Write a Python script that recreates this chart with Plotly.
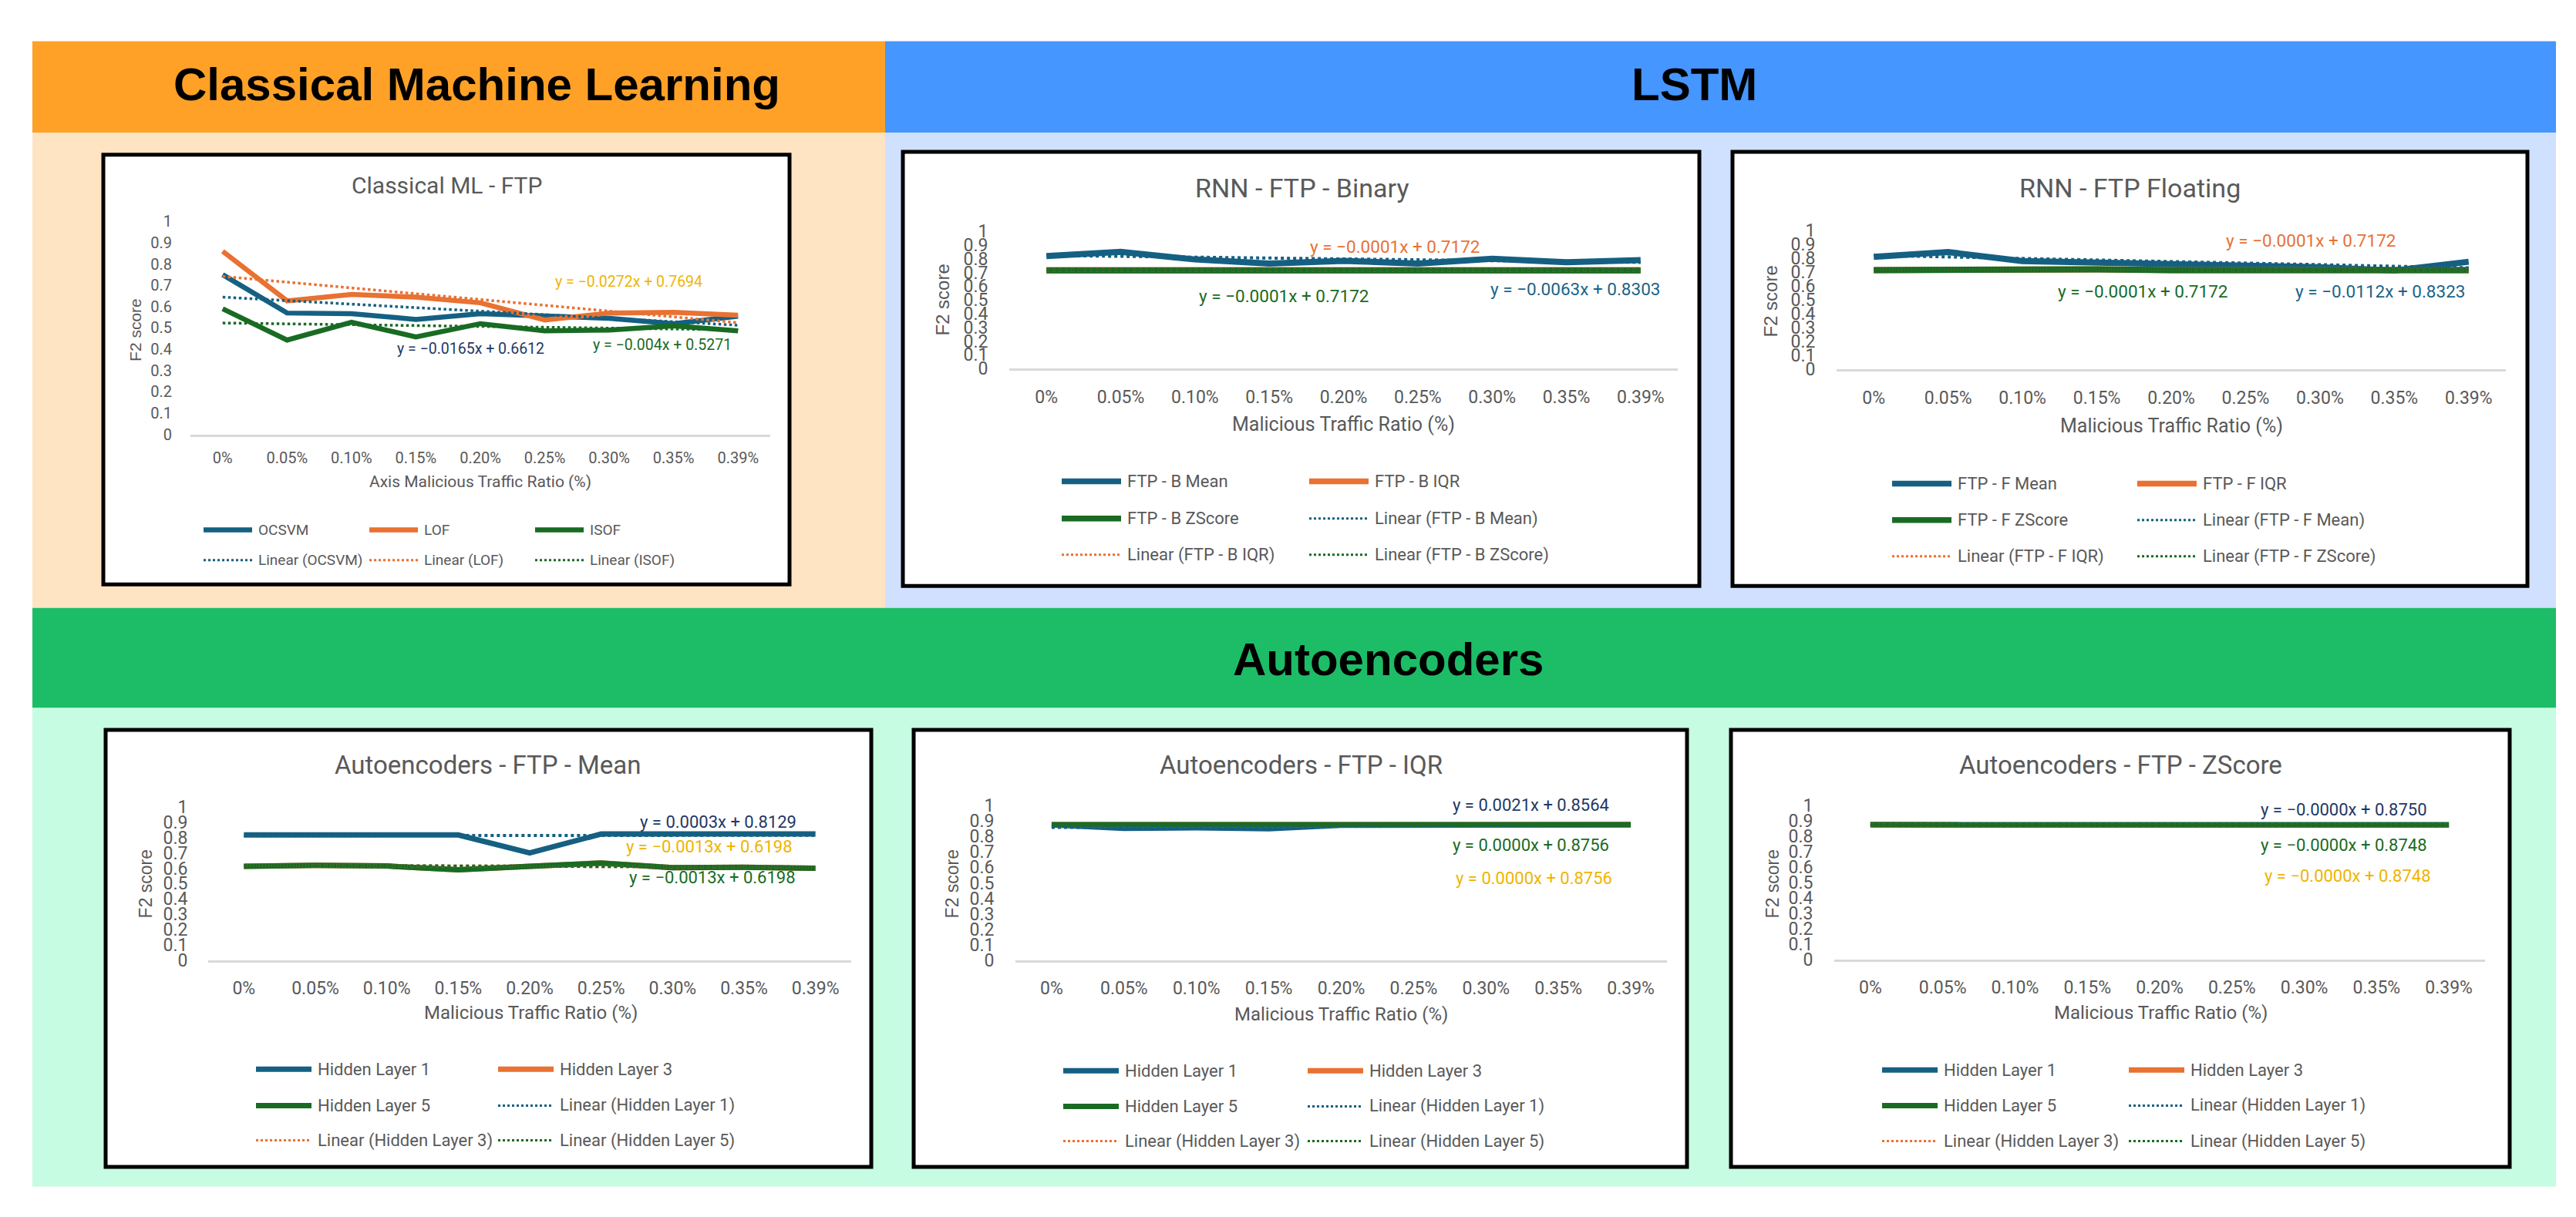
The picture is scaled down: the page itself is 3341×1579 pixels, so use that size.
import plotly.graph_objects as go

W, H = 3341, 1579

# ---------------- data ----------------
x_labels = ["0%", "0.05%", "0.10%", "0.15%", "0.20%", "0.25%", "0.30%", "0.35%", "0.39%"]
y_tick_vals = [0, 0.1, 0.2, 0.3, 0.4, 0.5, 0.6, 0.7, 0.8, 0.9, 1]
y_tick_text = ["0", "0.1", "0.2", "0.3", "0.4", "0.5", "0.6", "0.7", "0.8", "0.9", "1"]

section_titles = ["Classical Machine Learning", "LSTM", "Autoencoders"]

# Classical ML - FTP
ml_names = ["OCSVM", "LOF", "ISOF"]
ml_ocsvm = [0.750, 0.570, 0.567, 0.540, 0.567, 0.555, 0.545, 0.520, 0.555]
ml_lof = [0.860, 0.627, 0.657, 0.645, 0.618, 0.537, 0.570, 0.573, 0.560]
ml_isof = [0.590, 0.443, 0.527, 0.458, 0.520, 0.486, 0.490, 0.510, 0.486]
ml_slopes = [-0.0165, -0.0272, -0.004]
ml_intercepts = [0.6612, 0.7694, 0.5271]
ml_equations = ["y = −0.0165x + 0.6612", "y = −0.0272x + 0.7694", "y = −0.004x + 0.5271"]

# RNN - FTP - Binary
rnnb_names = ["FTP - B Mean", "FTP - B IQR", "FTP - B ZScore"]
rnnb_mean = [0.820, 0.850, 0.795, 0.765, 0.785, 0.765, 0.800, 0.775, 0.790]
rnnb_iqr = [0.715, 0.716, 0.722, 0.718, 0.716, 0.716, 0.716, 0.716, 0.716]
rnnb_zscore = [0.715, 0.716, 0.722, 0.718, 0.716, 0.716, 0.716, 0.716, 0.716]
rnnb_slopes = [-0.0063, -0.0001, -0.0001]
rnnb_intercepts = [0.8303, 0.7172, 0.7172]
rnnb_equations = ["y = −0.0063x + 0.8303", "y = −0.0001x + 0.7172", "y = −0.0001x + 0.7172"]

# RNN - FTP Floating
rnnf_names = ["FTP - F Mean", "FTP - F IQR", "FTP - F ZScore"]
rnnf_mean = [0.810, 0.845, 0.780, 0.770, 0.765, 0.745, 0.735, 0.712, 0.775]
rnnf_iqr = [0.715, 0.716, 0.725, 0.720, 0.715, 0.716, 0.715, 0.715, 0.715]
rnnf_zscore = [0.715, 0.716, 0.725, 0.720, 0.715, 0.716, 0.715, 0.715, 0.715]
rnnf_slopes = [-0.0112, -0.0001, -0.0001]
rnnf_intercepts = [0.8323, 0.7172, 0.7172]
rnnf_equations = ["y = −0.0112x + 0.8323", "y = −0.0001x + 0.7172", "y = −0.0001x + 0.7172"]

# Autoencoders
ae_names = ["Hidden Layer 1", "Hidden Layer 3", "Hidden Layer 5"]

aem_hl1 = [0.818, 0.818, 0.822, 0.818, 0.700, 0.824, 0.824, 0.824, 0.824]
aem_hl3 = [0.613, 0.619, 0.615, 0.590, 0.613, 0.634, 0.604, 0.607, 0.600]
aem_hl5 = [0.613, 0.619, 0.615, 0.590, 0.613, 0.634, 0.604, 0.607, 0.600]
aem_slopes = [0.0003, -0.0013, -0.0013]
aem_intercepts = [0.8129, 0.6198, 0.6198]
aem_equations = ["y = 0.0003x + 0.8129", "y = −0.0013x + 0.6198", "y = −0.0013x + 0.6198"]

aei_hl1 = [0.875, 0.852, 0.856, 0.850, 0.872, 0.875, 0.876, 0.876, 0.876]
aei_hl3 = [0.876, 0.875, 0.876, 0.875, 0.876, 0.876, 0.875, 0.876, 0.876]
aei_hl5 = [0.876, 0.875, 0.876, 0.875, 0.876, 0.876, 0.875, 0.876, 0.876]
aei_slopes = [0.0021, 0.0, 0.0]
aei_intercepts = [0.8564, 0.8756, 0.8756]
aei_equations = ["y = 0.0021x + 0.8564", "y = 0.0000x + 0.8756", "y = 0.0000x + 0.8756"]

aez_hl1 = [0.875, 0.875, 0.875, 0.875, 0.876, 0.878, 0.873, 0.875, 0.876]
aez_hl3 = [0.875, 0.875, 0.875, 0.875, 0.875, 0.872, 0.876, 0.875, 0.874]
aez_hl5 = [0.875, 0.875, 0.875, 0.875, 0.875, 0.872, 0.876, 0.875, 0.874]
aez_slopes = [0.0, 0.0, 0.0]
aez_intercepts = [0.8750, 0.8748, 0.8748]
aez_equations = ["y = −0.0000x + 0.8750", "y = −0.0000x + 0.8748", "y = −0.0000x + 0.8748"]

# ---------------- styles ----------------
SERIES_COLORS = ["#156082", "#E97132", "#196B24"]
EQ_COLORS_A = ["#1F3864", "#EFB400", "#196B24"]
EQ_COLORS_B = ["#1A6488", "#E97132", "#196B24"]
TXT = "#595959"
FONT = "Roboto, 'Noto Sans', sans-serif"
ARIAL = "'Liberation Sans', Arial, sans-serif"


def px_x(p):
    return p / W


def px_y(p):
    return 1 - p / H


charts = [
    dict(title="Classical ML - FTP", names=ml_names, series=[ml_ocsvm, ml_lof, ml_isof],
         slopes=ml_slopes, icepts=ml_intercepts, eqs=ml_equations, eqc=EQ_COLORS_A,
         xtitle="Axis Malicious Traffic Ratio (%)",
         box=(126, 183, 1016, 750), px=(239, 991), py=(552, 271),
         title_pos=(571, 223), title_size=30, tick_size=20, ylen=19, xlen=10,
         xt_pos=(615, 614), xt_size=21, f2_pos=(168, 414), f2_size=21,
         lw=6.5, tw=3.5, ncols=3, leg_rows=[678, 718], leg_cols=[256, 471, 686], leg_len=63,
         leg_size=19, leg_lw=6.5,
         eq_pos=[(602, 439), (807, 350), (851, 434)], eq_size=19.5),
    dict(title="RNN - FTP - Binary", names=rnnb_names, series=[rnnb_mean, rnnb_iqr, rnnb_zscore],
         slopes=rnnb_slopes, icepts=rnnb_intercepts, eqs=rnnb_equations, eqc=EQ_COLORS_B,
         xtitle="Malicious Traffic Ratio (%)",
         box=(1163, 179, 2196, 752), px=(1301, 2168), py=(465, 284),
         title_pos=(1680, 227), title_size=34, tick_size=23, ylen=22, xlen=14,
         xt_pos=(1734, 539), xt_size=25, f2_pos=(1215, 375), f2_size=24,
         lw=8, tw=4, ncols=2, leg_rows=[614, 663, 711], leg_cols=[1369, 1690], leg_len=77,
         leg_size=22, leg_lw=7.5,
         eq_pos=[(2035, 360), (1801, 304), (1657, 369)], eq_size=22.5),
    dict(title="RNN - FTP Floating", names=rnnf_names, series=[rnnf_mean, rnnf_iqr, rnnf_zscore],
         slopes=rnnf_slopes, icepts=rnnf_intercepts, eqs=rnnf_equations, eqc=EQ_COLORS_B,
         xtitle="Malicious Traffic Ratio (%)",
         box=(2239, 179, 3270, 752), px=(2374, 3242), py=(466, 283),
         title_pos=(2754, 227), title_size=34, tick_size=23, ylen=22, xlen=14,
         xt_pos=(2808, 541), xt_size=25, f2_pos=(2289, 377), f2_size=24,
         lw=8, tw=4, ncols=2, leg_rows=[617, 665, 713], leg_cols=[2446, 2764], leg_len=77,
         leg_size=22, leg_lw=7.5,
         eq_pos=[(3079, 363), (2989, 296), (2771, 363)], eq_size=22.5),
    dict(title="Autoencoders - FTP - Mean", names=ae_names, series=[aem_hl1, aem_hl3, aem_hl5],
         slopes=aem_slopes, icepts=aem_intercepts, eqs=aem_equations, eqc=EQ_COLORS_A,
         xtitle="Malicious Traffic Ratio (%)",
         box=(129, 942, 1122, 1519), px=(262, 1096), py=(1246, 1044),
         title_pos=(625, 988), title_size=33, tick_size=23, ylen=21, xlen=14,
         xt_pos=(680, 1316), xt_size=24, f2_pos=(181, 1146), f2_size=23,
         lw=7, tw=4, ncols=2, leg_rows=[1390, 1438, 1484], leg_cols=[324, 638], leg_len=72,
         leg_size=22, leg_lw=7,
         eq_pos=[(923, 1064), (912, 1096), (916, 1137)], eq_size=22),
    dict(title="Autoencoders - FTP - IQR", names=ae_names, series=[aei_hl1, aei_hl3, aei_hl5],
         slopes=aei_slopes, icepts=aei_intercepts, eqs=aei_equations, eqc=EQ_COLORS_A,
         xtitle="Malicious Traffic Ratio (%)",
         box=(1177, 942, 2180, 1519), px=(1309, 2154), py=(1246, 1042),
         title_pos=(1679, 988), title_size=33, tick_size=23, ylen=22, xlen=14,
         xt_pos=(1731, 1318), xt_size=24, f2_pos=(1227, 1146), f2_size=23,
         lw=7, tw=4, ncols=2, leg_rows=[1392, 1439, 1485], leg_cols=[1371, 1688], leg_len=72,
         leg_size=22, leg_lw=7,
         eq_pos=[(1977, 1041), (1981, 1138), (1977, 1094)], eq_size=22),
    dict(title="Autoencoders - FTP - ZScore", names=ae_names, series=[aez_hl1, aez_hl3, aez_hl5],
         slopes=aez_slopes, icepts=aez_intercepts, eqs=aez_equations, eqc=EQ_COLORS_A,
         xtitle="Malicious Traffic Ratio (%)",
         box=(2237, 942, 3247, 1519), px=(2371, 3215), py=(1245, 1042),
         title_pos=(2742, 988), title_size=33, tick_size=23, ylen=22, xlen=14,
         xt_pos=(2794, 1316), xt_size=24, f2_pos=(2291, 1146), f2_size=23,
         lw=7, tw=4, ncols=2, leg_rows=[1391, 1438, 1485], leg_cols=[2433, 2753], leg_len=72,
         leg_size=22, leg_lw=7,
         eq_pos=[(3032, 1047), (3037, 1135), (3032, 1094)], eq_size=22),
]

fig = go.Figure()
shapes = []
annotations = []


def rect(x0, y0, x1, y1, fill, line_color=None, line_width=0):
    shapes.append(dict(type="rect", xref="paper", yref="paper", layer="below",
                       x0=px_x(x0), x1=px_x(x1), y0=px_y(y1), y1=px_y(y0),
                       fillcolor=fill,
                       line=dict(color=line_color or fill, width=line_width)))


def text(x, y, s, size, color=TXT, family=FONT, xanchor="center", angle=0):
    annotations.append(dict(xref="paper", yref="paper", x=px_x(x), y=px_y(y), text=s,
                            showarrow=False, xanchor=xanchor, yanchor="middle",
                            textangle=angle, borderpad=0,
                            font=dict(size=size, color=color, family=family)))


# section backgrounds
rect(34, 33, 1140, 154, "#FFA126")
rect(1140, 33, 3307, 154, "#4596FF")
rect(34, 154, 1140, 781, "#FFE4C4")
rect(1140, 154, 3307, 781, "#D0E0FF")
rect(34, 781, 3307, 913, "#1DBD68")
rect(34, 913, 3307, 1545, "#C6FCE2")

text(610, 90, "<b>" + section_titles[0] + "</b>", 60, "#000000", ARIAL)
text(2189, 90, "<b>" + section_titles[1] + "</b>", 60, "#000000", ARIAL)
text(1792, 849, "<b>" + section_titles[2] + "</b>", 60, "#000000", ARIAL)

layout_axes = {}
for i, ch in enumerate(charts):
    n = i + 1
    xa = "x" if n == 1 else f"x{n}"
    ya = "y" if n == 1 else f"y{n}"
    bx0, by0, bx1, by1 = ch["box"]
    rect(bx0, by0, bx1, by1, "#FFFFFF", "#000000", 5)

    # series lines
    for k in range(3):
        fig.add_trace(go.Scatter(x=x_labels, y=ch["series"][k], mode="lines",
                                 name=ch["names"][k], xaxis=xa, yaxis=ya,
                                 line=dict(color=SERIES_COLORS[k], width=ch["lw"]),
                                 showlegend=False, hoverinfo="skip"))
    # linear trendlines (Excel x = 1..9)
    for k in range(3):
        m, b = ch["slopes"][k], ch["icepts"][k]
        fig.add_trace(go.Scatter(x=[x_labels[0], x_labels[-1]],
                                 y=[m * 1 + b, m * len(x_labels) + b], mode="lines",
                                 name="Linear (" + ch["names"][k] + ")", xaxis=xa, yaxis=ya,
                                 line=dict(color=SERIES_COLORS[k], width=ch["tw"], dash="dot"),
                                 showlegend=False, hoverinfo="skip"))

    x0, x1 = ch["px"]
    y0, y1 = ch["py"]
    layout_axes["xaxis" if n == 1 else f"xaxis{n}"] = dict(
        domain=[px_x(x0), px_x(x1)], anchor=ya, type="category",
        categoryorder="array", categoryarray=x_labels,
        range=[-0.5, len(x_labels) - 0.5], showgrid=False, zeroline=False,
        showline=True, linecolor="#D9D9D9", linewidth=3,
        ticks="outside", ticklen=ch["xlen"], tickcolor="rgba(0,0,0,0)",
        tickfont=dict(size=ch["tick_size"], color=TXT, family=FONT), fixedrange=True)
    layout_axes["yaxis" if n == 1 else f"yaxis{n}"] = dict(
        domain=[px_y(y0), px_y(y1)], anchor=xa, range=[0, 1],
        tickmode="array", tickvals=y_tick_vals, ticktext=y_tick_text,
        showgrid=False, zeroline=False, showline=False,
        ticks="outside", ticklen=ch["ylen"], tickcolor="rgba(0,0,0,0)",
        tickfont=dict(size=ch["tick_size"], color=TXT, family=FONT), fixedrange=True)

    # titles
    text(ch["title_pos"][0], ch["title_pos"][1], ch["title"], ch["title_size"])
    text(ch["xt_pos"][0], ch["xt_pos"][1], ch["xtitle"], ch["xt_size"])
    text(ch["f2_pos"][0], ch["f2_pos"][1], "F2 score", ch["f2_size"], TXT, ARIAL, angle=-90)

    # equations
    for k in range(3):
        ex, ey = ch["eq_pos"][k]
        text(ex, ey, ch["eqs"][k], ch["eq_size"], ch["eqc"][k])

    # custom legend
    entries = [(ch["names"][k], k, False) for k in range(3)] + \
              [("Linear (" + ch["names"][k] + ")", k, True) for k in range(3)]
    for j, (label, k, is_trend) in enumerate(entries):
        r, c = divmod(j, ch["ncols"])
        ly = ch["leg_rows"][r]
        lx = ch["leg_cols"][c]
        shapes.append(dict(type="line", xref="paper", yref="paper", layer="above",
                           x0=px_x(lx), x1=px_x(lx + ch["leg_len"]), y0=px_y(ly), y1=px_y(ly),
                           line=dict(color=SERIES_COLORS[k],
                                     width=3 if is_trend else ch["leg_lw"],
                                     dash="dot" if is_trend else "solid")))
        text(lx + ch["leg_len"] + 7, ly, label, ch["leg_size"], TXT, FONT, xanchor="left")

fig.update_layout(
    width=W, height=H, margin=dict(l=0, r=0, t=0, b=0),
    paper_bgcolor="#FFFFFF", plot_bgcolor="rgba(0,0,0,0)",
    showlegend=False, shapes=shapes, annotations=annotations,
    font=dict(family=FONT, color=TXT),
    **layout_axes,
)

fig.write_html("out.html")
